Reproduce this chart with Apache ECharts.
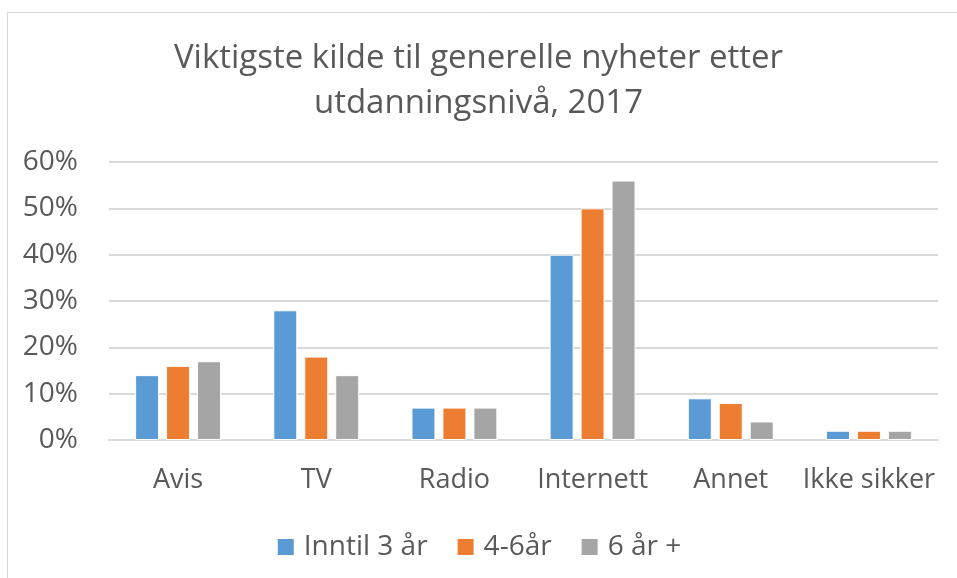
<!DOCTYPE html>
<html><head><meta charset="utf-8">
<script src="https://cdn.jsdelivr.net/npm/echarts@6/dist/echarts.min.js"></script>
<style>html,body{margin:0;padding:0;background:#fff}#c{width:957px;height:578px}</style>
</head><body><div id="c"></div>
<script>
const categories = ['Avis','TV','Radio','Internett','Annet','Ikke sikker'];
const seriesNames = ['Inntil 3 år','4-6år','6 år +'];
const inntil3 = [14,28,7,40,9,2];
const aar4til6 = [16,18,7,50,8,2];
const aar6pluss = [17,14,7,56,4,2];
const yTicks = [0,10,20,30,40,50,60];
const colors = ['#5B9BD5','#ED7D31','#A5A5A5'];
const font = 'Open Sans';
const chart = echarts.init(document.getElementById('c'));
const mk = (name, data, i) => ({
  name, type:'bar', data, barWidth:24, barGap:'29%',
  itemStyle:{color:colors[i], borderColor:'#fff', borderWidth:1},
  emphasis:{disabled:true}
});
chart.setOption({
  animation:false,
  title:{text:'Viktigste kilde til generelle nyheter etter\nutdanningsnivå, 2017', left:'center', top:31,
    textStyle:{fontFamily:font, fontSize:33, fontWeight:'normal', color:'#595959', lineHeight:45}},
  graphic:[{type:'rect', shape:{x:7.5,y:12.5,width:1000,height:1000}, style:{fill:'none', stroke:'#D9D9D9', lineWidth:1}, silent:true}],
  legend:{bottom:12, left:'center', itemWidth:18, itemHeight:18, itemGap:28, icon:'rect',
    textStyle:{fontFamily:font, fontSize:28, color:'#595959', padding:[0,0,0,4]}, data:seriesNames},
  grid:{left:109, right:19, top:162, bottom:138},
  xAxis:{type:'category', data:categories,
    axisLine:{lineStyle:{color:'#D9D9D9', width:2}}, axisTick:{show:false},
    axisLabel:{fontFamily:font, fontSize:27, color:'#595959', margin:27, interval:0, hideOverlap:false}},
  yAxis:{type:'value', min:yTicks[0], max:yTicks[yTicks.length-1], interval:10,
    axisLine:{show:false}, axisTick:{show:false},
    splitLine:{lineStyle:{color:'#D9D9D9', width:2}},
    axisLabel:{fontFamily:font, fontSize:28, color:'#595959', margin:31, formatter:v=>v+'%'}},
  series:[mk(seriesNames[0],inntil3,0), mk(seriesNames[1],aar4til6,1), mk(seriesNames[2],aar6pluss,2)]
});
</script></body></html>
